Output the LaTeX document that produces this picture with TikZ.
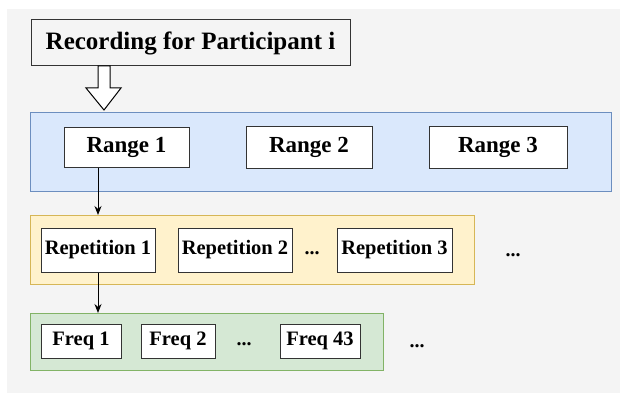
\documentclass[tikz,border=0pt]{standalone}
\usepackage{fontspec}
\setmainfont{Liberation Serif}
\usetikzlibrary{arrows.meta}
\definecolor{bggray}{HTML}{F4F4F4}
\definecolor{bluefill}{HTML}{DAE8FC}
\definecolor{blueline}{HTML}{6C8EBF}
\definecolor{yellowfill}{HTML}{FFF2CC}
\definecolor{yellowline}{HTML}{D6B656}
\definecolor{greenfill}{HTML}{D5E8D4}
\definecolor{greenline}{HTML}{82B366}
\definecolor{boxline}{HTML}{333333}
\tikzset{
  itembox/.style={draw=boxline, line width=1pt, fill=white, inner sep=0pt},
  rangebox/.style={itembox, font=\bfseries\fontsize{23}{28}\selectfont},
  repbox/.style={itembox, minimum width=114pt, minimum height=44pt, font=\bfseries\fontsize{20.5}{24}\selectfont},
  freqbox/.style={itembox, minimum height=34pt, font=\bfseries\fontsize{20.5}{24}\selectfont},
  panel/.style={line width=1.2pt, inner sep=0pt, anchor=north west},
  dots/.style={inner sep=0pt, font=\bfseries\fontsize{20}{24}\selectfont},
  link/.style={-{Stealth[length=9pt,width=7pt]}, line width=1pt, black}
}
\begin{document}
\begin{tikzpicture}[x=1pt,y=-1pt]
  \useasboundingbox (0,0) rectangle (620,393);
  % grey canvas
  \fill[bggray] (7,9) rectangle (620,393);

  % header
  \node[itembox, fill=bggray, minimum width=319pt, minimum height=46pt,
        font=\bfseries\fontsize{25}{30}\selectfont] (rec) at (190.5,43) {Recording for Participant i};

  % hollow block arrow under the header
  \draw[line width=1pt, fill=white] (98,66) -- (110,66) -- (110,88) -- (121,88) -- (104,110)
        -- (86,88) -- (98,88) -- cycle;

  % panels
  \node[panel, draw=blueline, fill=bluefill, minimum width=581pt, minimum height=79pt] (bpanel) at (30,112) {};
  \node[panel, draw=yellowline, fill=yellowfill, minimum width=444pt, minimum height=69pt] (ypanel) at (30,215) {};
  \node[panel, draw=greenline, fill=greenfill, minimum width=353pt, minimum height=57pt] (gpanel) at (30,313) {};

  % ranges
  \node[rangebox, minimum width=125pt, minimum height=40pt] (r1) at (126.5,147) {Range 1};
  \node[rangebox, minimum width=126pt, minimum height=42pt] (r2) at (309,147) {Range 2};
  \node[rangebox, minimum width=138pt, minimum height=42pt] (r3) at (498,147) {Range 3};

  % repetitions
  \node[repbox] (rep1) at (98,250) {Repetition 1};
  \node[repbox] (rep2) at (235,250) {Repetition 2};
  \node[repbox, minimum width=115pt] (rep3) at (394.5,250) {Repetition 3};
  \node[dots] (d1) at (312,253) {...};
  \node[dots] (d2) at (513,255) {...};

  % frequencies
  \node[freqbox, minimum width=80pt] (f1) at (81,341) {Freq 1};
  \node[freqbox, minimum width=74pt] (f2) at (178,341) {Freq 2};
  \node[freqbox, minimum width=80pt] (f43) at (320,341) {Freq 43};
  \node[dots] (d3) at (244,344) {...};
  \node[dots] (d4) at (417,346) {...};

  % connectors
  \draw[link] (r1.south -| rep1.north) -- (rep1.north |- ypanel.north);
  \draw[link] (rep1.south) -- (rep1.south |- gpanel.north);
\end{tikzpicture}
\end{document}
